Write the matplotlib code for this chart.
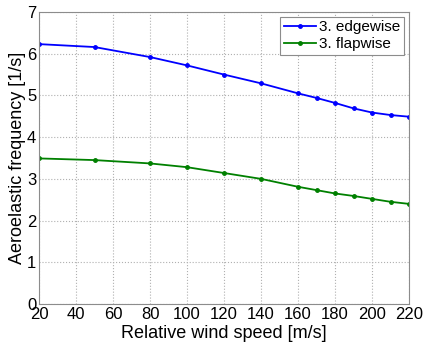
import matplotlib
matplotlib.use("Agg")
import matplotlib.pyplot as plt

plt.rcParams['font.family'] = ['Liberation Sans', 'DejaVu Sans']

wind_speed = [20, 50, 80, 100, 120, 140, 160, 170, 180, 190, 200, 210, 220]
edgewise = [6.23, 6.16, 5.92, 5.72, 5.50, 5.29, 5.05, 4.94, 4.82, 4.69, 4.59, 4.53, 4.49]
flapwise = [3.49, 3.45, 3.37, 3.28, 3.14, 3.00, 2.81, 2.73, 2.65, 2.59, 2.52, 2.45, 2.40]
x_ticks = [20, 40, 60, 80, 100, 120, 140, 160, 180, 200, 220]
y_ticks = [0, 1, 2, 3, 4, 5, 6, 7]

fig = plt.figure(figsize=(4.23, 3.46), dpi=100)
ax = fig.add_axes([39 / 423, 1 - 304 / 346, 370 / 423, 292 / 346])

ax.plot(wind_speed, edgewise, color='#0000ff', marker='.', markersize=5,
        linewidth=1.3, label='3. edgewise')
ax.plot(wind_speed, flapwise, color='#008000', marker='.', markersize=5,
        linewidth=1.3, label='3. flapwise')

ax.set_xlim(20, 220)
ax.set_ylim(0, 7)
ax.set_xticks(x_ticks)
ax.set_yticks(y_ticks)
ax.tick_params(labelsize=12, length=0, pad=2, colors='black')
ax.grid(True, linestyle=':', color='#b0b0b0', linewidth=0.8)
for s in ax.spines.values():
    s.set_color('#8c8c8c')
    s.set_linewidth(0.8)

ax.set_xlabel('Relative wind speed [m/s]', fontsize=13, labelpad=2)
ax.set_ylabel('Aeroelastic frequency [1/s]', fontsize=13)
ax.yaxis.set_label_coords(-0.035, 0.5)

leg = ax.legend(loc='upper right', fontsize=11, fancybox=False, framealpha=1,
                edgecolor='#8c8c8c', handlelength=2.1, handletextpad=0.2,
                borderpad=0.25, labelspacing=0.2, borderaxespad=0.3)
leg.get_frame().set_linewidth(0.8)

fig.savefig('out.png', dpi=100)
